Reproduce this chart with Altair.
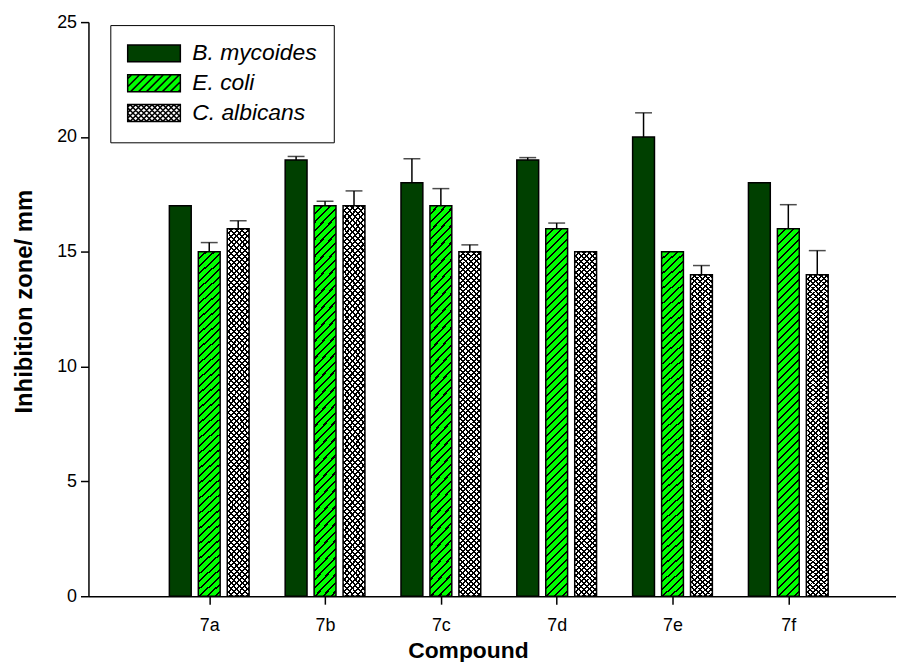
import math
import altair as alt
import pandas as pd

# ---------------- data ----------------
compounds = ["7a", "7b", "7c", "7d", "7e", "7f"]
series_names = ["B. mycoides", "E. coli", "C. albicans"]
b_mycoides = [17, 19, 18, 19, 20, 18]
b_mycoides_err = [0, 0.15, 1.05, 0.1, 1.05, 0]
e_coli = [15, 17, 17, 16, 15, 16]
e_coli_err = [0.4, 0.2, 0.75, 0.25, 0, 1.05]
c_albicans = [16, 17, 15, 15, 14, 14]
c_albicans_err = [0.35, 0.65, 0.3, 0, 0.4, 1.05]

values = [b_mycoides, e_coli, c_albicans]
errors = [b_mycoides_err, e_coli_err, c_albicans_err]
rows = []
for s, vals, errs in zip(series_names, values, errors):
    for i, (c, v, e) in enumerate(zip(compounds, vals, errs)):
        rows.append({"compound": c, "idx": i + 1, "series": s,
                     "value": v, "err": e, "top": v + e})
df = pd.DataFrame(rows)

# ---------------- layout / style ----------------
FONT = "Liberation Sans"
PLOT_W, PLOT_H = 813, 578
PX_PER_X = 118.05
X_MAX = PLOT_W / PX_PER_X
BAR_W = 22
PX_PER_UNIT = PLOT_H / 25.0
offsets = {"B. mycoides": -0.25, "E. coli": 0.0, "C. albicans": 0.25}
DARK = "#004000"
LIME = "#00FF00"


def stripe_grad(base, line, h_px, w_px, period, lw, direction):
    k = h_px / w_px
    d = (1 + k) / (1 + k * k)
    L = (w_px + h_px) / math.sqrt(2)
    stops = [{"offset": 0, "color": base}]
    j = 1
    while True:
        s = (j * period - lw / 2) / L
        e = (j * period + lw / 2) / L
        if e >= 1:
            break
        s, e = round(s, 5), round(e, 5)
        stops += [{"offset": s, "color": base}, {"offset": s, "color": line},
                  {"offset": e, "color": line}, {"offset": e, "color": base}]
        j += 1
    stops.append({"offset": 1, "color": base})
    if direction == "/":
        return alt.LinearGradient(gradient="linear", x1=0, y1=0, x2=d, y2=k * d, stops=stops)
    return alt.LinearGradient(gradient="linear", x1=0, y1=1, x2=d, y2=1 - k * d, stops=stops)


h_e = sum(e_coli) / 6 * PX_PER_UNIT
h_c = sum(c_albicans) / 6 * PX_PER_UNIT
grad_e = stripe_grad(LIME, "black", h_e, BAR_W, 5.7, 1.5, "/")
grad_c1 = stripe_grad("white", "black", h_c, BAR_W, 3.9, 1.4, "/")
grad_c2 = stripe_grad("rgba(255,255,255,0)", "black", h_c, BAR_W, 3.9, 1.4, "\\")

# legend symbol paths: symbol size 17x17 px -> one path unit = 8.5 px
SYM_H = 17
SYM_W = 53
U = SYM_H / 2.0
W2 = SYM_W / 2.0 / U
H2 = 1.0
rect_path = f"M{-W2:.4f},{-H2:.4f}L{W2:.4f},{-H2:.4f}L{W2:.4f},{H2:.4f}L{-W2:.4f},{H2:.4f}Z"


def hatch_lines(step_px, kind):
    step = step_px / U
    parts = []
    c = -W2 - H2 + step / 2
    while c < W2 + H2:
        xa = max(-W2, c - H2)
        xb = min(W2, c + H2)
        if xa < xb:
            if kind == "/":
                parts.append(f"M{xa:.4f},{c - xa:.4f}L{xb:.4f},{c - xb:.4f}")
            else:
                parts.append(f"M{xa:.4f},{xa - c:.4f}L{xb:.4f},{xb - c:.4f}")
        c += step
    return "".join(parts)


path_e = rect_path + hatch_lines(8, "/")
path_c = rect_path + hatch_lines(5.5, "/") + hatch_lines(5.5, "\\")
shape_expr = (f"datum.value === '{series_names[1]}' ? '{path_e}' : "
              f"datum.value === '{series_names[2]}' ? '{path_c}' : '{rect_path}'")

# ---------------- encodings ----------------
label_expr = "[" + ",".join(["''"] + [f"'{c}'" for c in compounds]) + "][datum.value]"

x_enc = alt.X(
    "xpos:Q",
    scale=alt.Scale(domain=[0, X_MAX], nice=False, zero=False),
    axis=alt.Axis(values=[1, 2, 3, 4, 5, 6], labelExpr=label_expr, title="Compound",
                  grid=False, tickSize=8, labelPadding=12, titlePadding=6,
                  titleFontSize=23, titleX=382, titleAnchor="middle"),
)


def y_enc(field):
    return alt.Y(
        f"{field}:Q",
        scale=alt.Scale(domain=[0, 25], nice=False),
        axis=alt.Axis(values=[0, 5, 10, 15, 20, 25], title="Inhibition zone/ mm",
                      grid=False, tickSize=8, labelPadding=4, titlePadding=20,
                      titleFontSize=24, titleY=281),
    )


base = alt.Chart(df)


def series_layer(name):
    return (
        base.transform_filter(alt.datum.series == name)
        .transform_calculate(xpos=f"datum.idx + ({offsets[name]})")
    )


legend = alt.Legend(
    title=None, orient="none", legendX=22, legendY=3,
    symbolSize=SYM_H * SYM_H, symbolStrokeColor="black", symbolStrokeWidth=1.5,
    symbolType={"expr": shape_expr}, symbolOpacity=1,
    symbolOffset=(SYM_W - SYM_H) / 2.0 - 2.5,
    labelFont=FONT, labelFontSize=23, labelFontStyle="italic", labelColor="black",
    labelOffset=27, rowPadding=6, padding=17,
    strokeColor="black", fillColor="white", cornerRadius=0,
)

bars_b = series_layer("B. mycoides").mark_bar(
    width=BAR_W, orient="vertical", stroke="black", strokeWidth=1.5
).encode(
    x=x_enc, y=y_enc("value"),
    fill=alt.Fill("series:N", scale=alt.Scale(domain=series_names, range=[DARK, LIME, "white"]),
                  legend=legend),
)

bars_e = series_layer("E. coli").mark_bar(
    width=BAR_W, orient="vertical", stroke="black", strokeWidth=1.5, fill=grad_e
).encode(x=x_enc, y=y_enc("value"))

bars_c1 = series_layer("C. albicans").mark_bar(
    width=BAR_W, orient="vertical", strokeWidth=0, fill=grad_c1
).encode(x=x_enc, y=y_enc("value"))

bars_c2 = series_layer("C. albicans").mark_bar(
    width=BAR_W, orient="vertical", stroke="black", strokeWidth=1.5, fill=grad_c2
).encode(x=x_enc, y=y_enc("value"))

err_base = base.transform_filter(alt.datum.err > 0).transform_calculate(
    xpos="datum.idx + (datum.series === 'B. mycoides' ? -0.25 : datum.series === 'C. albicans' ? 0.25 : 0)"
)
err_rule = err_base.mark_rule(color="black", strokeWidth=1.5).encode(
    x=x_enc, y=y_enc("value"), y2="top:Q")
err_cap = err_base.mark_tick(color="black", orient="horizontal", size=17, thickness=1.5).encode(
    x=x_enc, y=y_enc("top"))

chart = (
    alt.layer(bars_b, bars_e, bars_c1, bars_c2, err_rule, err_cap)
    .properties(width=PLOT_W, height=PLOT_H, background="white",
                autosize=alt.AutoSizeParams(type="none"),
                padding={"left": 81, "top": 12, "right": 0, "bottom": 64})
    .configure_view(stroke=None)
    .configure_axis(
        domainColor="black", domainWidth=1.5, tickColor="black", tickWidth=1.5,
        labelFont=FONT, labelFontSize=18, labelColor="black",
        titleFont=FONT, titleFontSize=22, titleFontWeight="bold", titleColor="black",
    )
)

chart.save("out.html", embed_options={"renderer": "svg", "actions": False})
